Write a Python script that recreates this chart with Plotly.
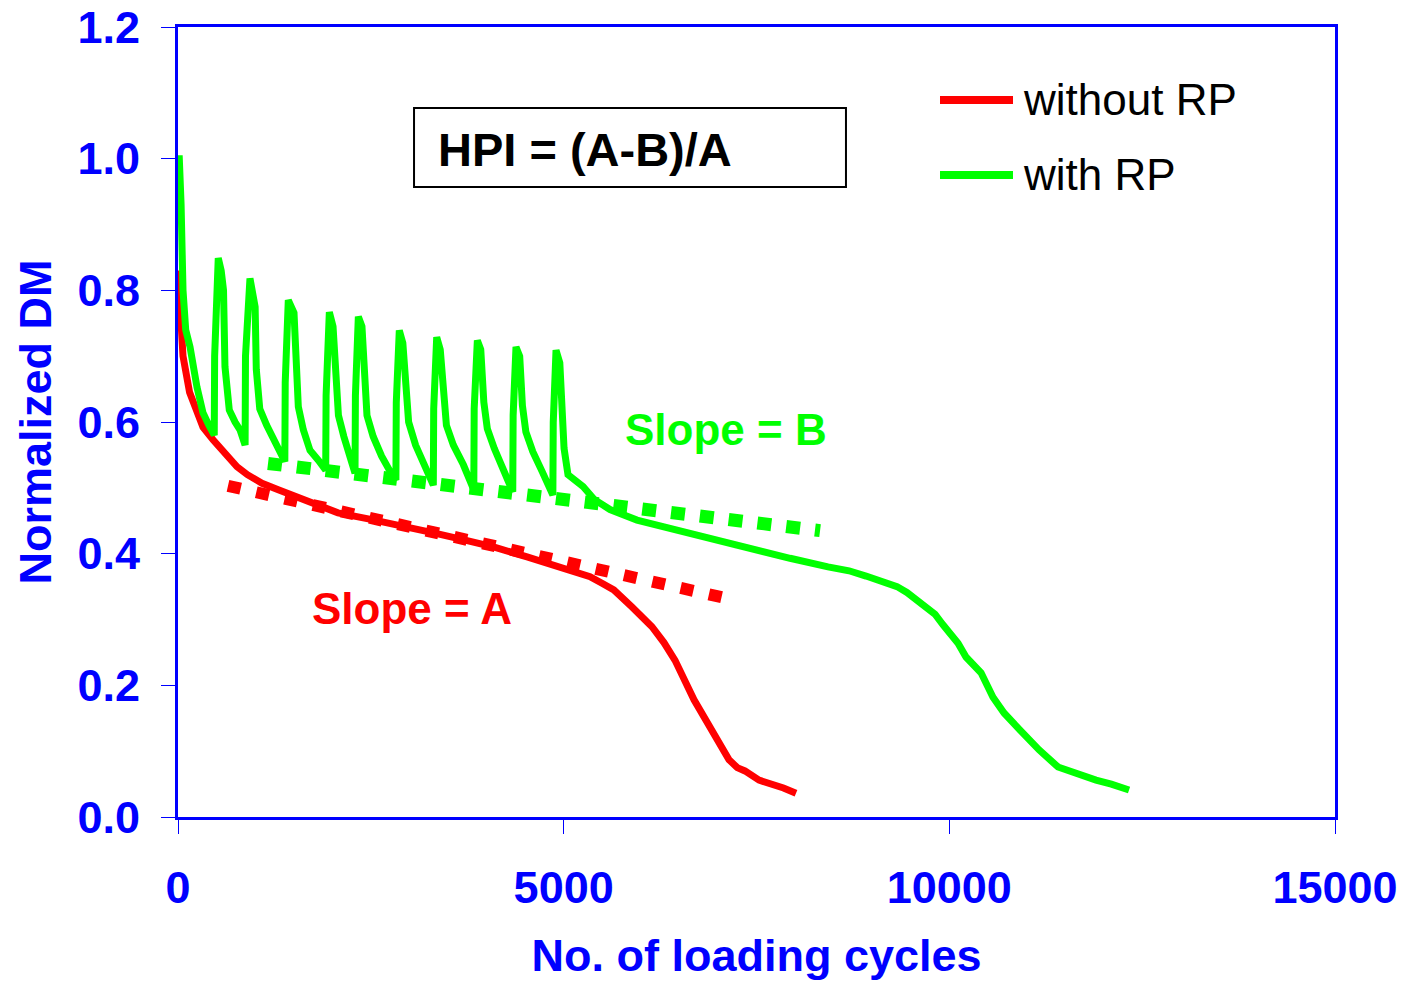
import plotly.graph_objects as go

# ---------------- data ----------------
red_x = [0, 30, 65, 150, 250, 324, 454, 600, 765, 900, 1089, 1300, 1530, 1800, 2074,
         2500, 2891, 3300, 3708, 4100, 4525, 4953, 5342, 5497, 5650, 5886, 6145, 6300,
         6444, 6690, 6937, 7144, 7250, 7350, 7533, 7700, 7850, 8012]
red_y = [0.83, 0.76, 0.70, 0.645, 0.615, 0.592, 0.573, 0.552, 0.532, 0.52, 0.507, 0.497,
         0.486, 0.475, 0.462, 0.452, 0.441, 0.432, 0.421, 0.41, 0.395, 0.38, 0.365, 0.355,
         0.345, 0.319, 0.289, 0.265, 0.238, 0.178, 0.128, 0.087, 0.075, 0.07, 0.056, 0.05,
         0.044, 0.036]

green_x = [0, 17, 40, 65, 100, 156, 246, 324, 400, 470,
           475, 522, 560, 590, 609, 665, 740, 804, 870,
           875, 933, 965, 1000, 1015, 1060, 1150, 1250, 1330, 1385,
           1390, 1430, 1504, 1530, 1560, 1625, 1711, 1819, 1915,
           1920, 1962, 2010, 2050, 2080, 2150, 2230, 2295,
           2300, 2338, 2385, 2420, 2450, 2530, 2640, 2750, 2825,
           2830, 2869, 2915, 2950, 2990, 3080, 3200, 3310,
           3315, 3354, 3400, 3440, 3480, 3570, 3700, 3835,
           3840, 3881, 3925, 3965, 4010, 4100, 4220, 4340,
           4345, 4382, 4430, 4465, 4510, 4600, 4720, 4860,
           4865, 4901, 4950, 4975, 5005, 5056, 5251, 5400, 5601, 5951,
           6444, 6936, 7442, 7935, 8427, 8700, 8920, 9150, 9322, 9450, 9568, 9700, 9814, 9918,
           10113, 10216, 10411, 10566, 10709, 10917, 11163, 11409, 11650, 11902,
           12100, 12330]
green_y = [1.0, 1.0, 0.93, 0.80, 0.74, 0.714, 0.653, 0.614, 0.595, 0.58,
           0.70, 0.849, 0.83, 0.80, 0.684, 0.618, 0.60, 0.588, 0.565,
           0.70, 0.818, 0.80, 0.775, 0.68, 0.62, 0.595, 0.57, 0.548, 0.540,
           0.66, 0.785, 0.766, 0.684, 0.623, 0.588, 0.557, 0.542, 0.527,
           0.64, 0.767, 0.745, 0.66, 0.610, 0.578, 0.545, 0.522,
           0.64, 0.760, 0.745, 0.66, 0.61, 0.578, 0.548, 0.525, 0.512,
           0.63, 0.739, 0.72, 0.64, 0.60, 0.565, 0.535, 0.504,
           0.62, 0.729, 0.71, 0.635, 0.595, 0.565, 0.535, 0.497,
           0.62, 0.724, 0.71, 0.63, 0.59, 0.56, 0.53, 0.494,
           0.61, 0.714, 0.70, 0.625, 0.585, 0.555, 0.525, 0.489,
           0.60, 0.709, 0.69, 0.61, 0.56, 0.52, 0.502, 0.482, 0.467, 0.451,
           0.436, 0.421, 0.406, 0.393, 0.380, 0.374, 0.366, 0.358, 0.350, 0.341, 0.330, 0.320, 0.308, 0.292,
           0.264, 0.243, 0.219, 0.182, 0.158, 0.132, 0.102, 0.076, 0.065, 0.056,
           0.05, 0.041]

slopeA_x = [648, 7080]
slopeA_y = [0.503, 0.333]
slopeB_x = [1167, 8324]
slopeB_y = [0.537, 0.435]

x_ticks = [0, 5000, 10000, 15000]
x_tick_labels = ["0", "5000", "10000", "15000"]
y_ticks = [0.0, 0.2, 0.4, 0.6, 0.8, 1.0, 1.2]
y_tick_labels = ["0.0", "0.2", "0.4", "0.6", "0.8", "1.0", "1.2"]

series_names = ["without RP", "with RP"]

# ---------------- styles ----------------
RED = "#FF0000"
GREEN = "#00FF00"
BLUE = "#0000FF"
FONT = "Liberation Sans, Arial, sans-serif"

fig = go.Figure()

fig.add_trace(go.Scatter(x=slopeA_x, y=slopeA_y, mode="lines", showlegend=False,
                         line=dict(color=RED, width=12, dash="13px,16px")))
fig.add_trace(go.Scatter(x=slopeB_x, y=slopeB_y, mode="lines", showlegend=False,
                         line=dict(color=GREEN, width=13, dash="14px,15px")))
fig.add_trace(go.Scatter(x=red_x, y=red_y, mode="lines", name=series_names[0],
                         showlegend=False, line=dict(color=RED, width=7)))
fig.add_trace(go.Scatter(x=green_x, y=green_y, mode="lines", name=series_names[1],
                         showlegend=False, line=dict(color=GREEN, width=7)))

# manual legend (paper coordinates)
legend_rows = [(0.9076, RED, series_names[0]), (0.8127, GREEN, series_names[1])]
for yp, col, name in legend_rows:
    fig.add_shape(type="line", xref="paper", yref="paper", x0=0.6586, x1=0.7217,
                  y0=yp, y1=yp, line=dict(color=col, width=8))
    fig.add_annotation(xref="paper", yref="paper", x=0.7285, y=yp, text=name,
                       showarrow=False, xanchor="left", yanchor="middle",
                       font=dict(family=FONT, size=44, color="black"))

# HPI box
fig.add_shape(type="rect", xref="x", yref="y", x0=3060, x1=8660, y0=0.957, y1=1.077,
              line=dict(color="black", width=2), fillcolor="white")
fig.add_annotation(x=3345, y=1.014, xref="x", yref="y", text="HPI = (A-B)/A",
                   showarrow=False, xanchor="left", yanchor="middle",
                   font=dict(family=FONT, size=47, color="black", weight="bold"))

fig.add_annotation(x=7105, y=0.588, text="Slope = B", showarrow=False,
                   xanchor="center", yanchor="middle",
                   font=dict(family=FONT, size=44, color=GREEN, weight="bold"))
fig.add_annotation(x=3034, y=0.316, text="Slope = A", showarrow=False,
                   xanchor="center", yanchor="middle",
                   font=dict(family=FONT, size=44, color=RED, weight="bold"))

axis_common = dict(showline=True, linecolor=BLUE, linewidth=3, mirror=True,
                   ticks="outside", tickcolor=BLUE, tickwidth=1, ticklen=14,
                   showgrid=False, zeroline=False, automargin=False,
                   tickfont=dict(family=FONT, size=45, color=BLUE, weight="bold"))

fig.update_xaxes(range=[0, 15000], tickvals=x_ticks, ticktext=x_tick_labels,
                 ticklabelstandoff=15,
                 title=dict(text="No. of loading cycles", standoff=29,
                            font=dict(family=FONT, size=45, color=BLUE, weight="bold")),
                 **axis_common)
fig.update_yaxes(range=[0, 1.2], tickvals=y_ticks, ticktext=y_tick_labels,
                 ticklabelstandoff=12,
                 title=dict(text="Normalized DM", standoff=12,
                            font=dict(family=FONT, size=45, color=BLUE, weight="bold")),
                 **axis_common)

fig.update_layout(width=1405, height=981,
                  margin=dict(l=178, r=70, t=27, b=164),
                  paper_bgcolor="white", plot_bgcolor="white",
                  showlegend=False)

fig.write_html("out.html")
